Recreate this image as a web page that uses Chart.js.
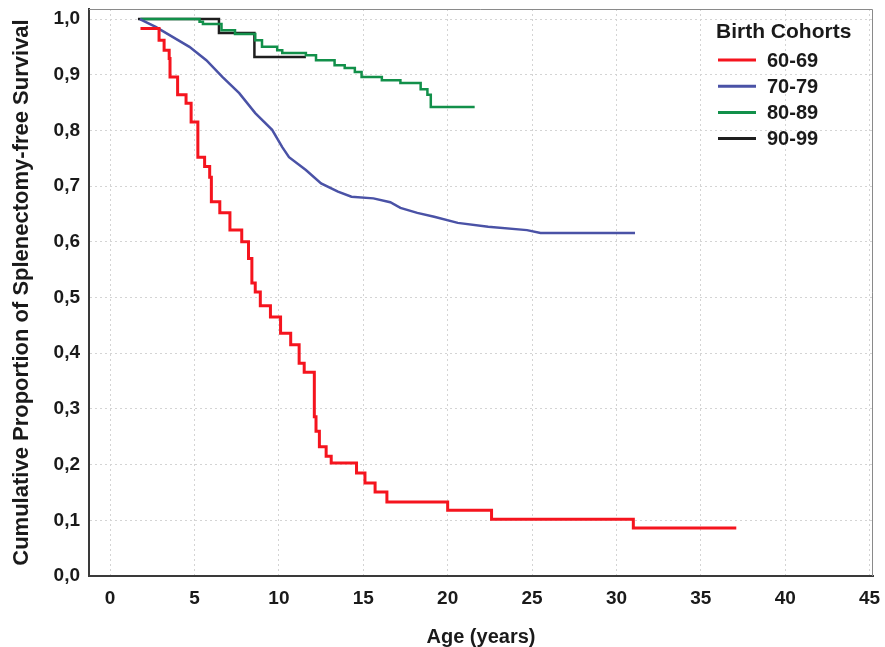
<!DOCTYPE html>
<html><head><meta charset="utf-8">
<script src="https://cdn.jsdelivr.net/npm/chart.js@4/dist/chart.umd.min.js"></script>
<style>html,body{margin:0;padding:0;background:#fff;} #wrap{width:885px;height:647px;}</style>
</head><body><div id="wrap"><canvas id="c" width="885" height="647"></canvas></div>
<script>
const cohortLabels = ['60-69', '70-79', '80-89', '90-99'];

const age6069  = [1.8, 2.9, 3.2, 3.5, 3.55, 4.0, 4.5, 4.8, 5.2, 5.6, 5.9, 6.0, 6.5, 7.1, 7.8, 8.2, 8.4, 8.6, 8.9, 9.5, 10.1, 10.7, 11.2, 11.5, 12.1, 12.2, 12.4, 12.8, 13.1, 14.6, 15.1, 15.7, 16.4, 20.0, 22.6, 31.0, 37.1];
const surv6069 = [0.983, 0.962, 0.944, 0.929, 0.896, 0.864, 0.849, 0.815, 0.752, 0.735, 0.716, 0.672, 0.652, 0.621, 0.600, 0.570, 0.526, 0.510, 0.485, 0.465, 0.436, 0.415, 0.382, 0.366, 0.286, 0.260, 0.232, 0.215, 0.203, 0.185, 0.167, 0.151, 0.133, 0.118, 0.102, 0.086, 0.086];

const age7079  = [1.76, 2.7, 3.7, 4.7, 5.7, 6.65, 7.65, 8.6, 9.6, 10.2, 10.6, 11.6, 12.5, 13.5, 14.3, 15.6, 16.6, 17.2, 18.2, 19.2, 20.6, 22.4, 24.7, 25.5, 31.1];
const surv7079 = [1.0, 0.986, 0.968, 0.950, 0.926, 0.896, 0.867, 0.831, 0.801, 0.770, 0.752, 0.729, 0.705, 0.690, 0.681, 0.678, 0.671, 0.661, 0.652, 0.645, 0.634, 0.627, 0.621, 0.616, 0.616];

const age8089  = [1.8, 5.3, 5.5, 6.6, 7.4, 8.6, 9.0, 9.9, 10.2, 11.6, 12.2, 13.3, 13.9, 14.5, 14.9, 16.1, 17.2, 18.4, 18.8, 19.0, 21.6];
const surv8089 = [1.0, 0.995, 0.991, 0.980, 0.973, 0.962, 0.950, 0.944, 0.939, 0.935, 0.926, 0.917, 0.912, 0.905, 0.896, 0.890, 0.885, 0.874, 0.864, 0.842, 0.842];

const age9099  = [1.65, 6.45, 8.55, 11.6];
const surv9099 = [1.0, 0.975, 0.932, 0.932];

const xTickValues = [0, 5, 10, 15, 20, 25, 30, 35, 40, 45];
const yTickValues = [0, 0.1, 0.2, 0.3, 0.4, 0.5, 0.6, 0.7, 0.8, 0.9, 1.0];

const legendTitle = 'Birth Cohorts';
const xTitle = 'Age (years)';
const yTitle = 'Cumulative Proportion of Splenectomy-free Survival';

const colors = ['#f5141e', '#4a52a6', '#12904a', '#1e1e1e'];
const widths = [3, 2.5, 2.5, 2.5];

function pts(xs, ys) { return xs.map((x, i) => ({x: x, y: ys[i]})); }

const seriesX = [age6069, age7079, age8089, age9099];
const seriesY = [surv6069, surv7079, surv8089, surv9099];
const steppedFlags = [true, false, true, true];

const datasets = cohortLabels.map((lab, i) => ({
  label: lab,
  data: pts(seriesX[i], seriesY[i]),
  borderColor: colors[i],
  backgroundColor: colors[i],
  borderWidth: widths[i],
  pointRadius: 0,
  fill: false,
  stepped: steppedFlags[i],
  tension: 0
}));

const FONT = '"Liberation Sans", Arial, sans-serif';

const framePlugin = {
  id: 'frame',
  afterDraw(chart) {
    const {ctx, chartArea: a} = chart;
    ctx.save();
    ctx.strokeStyle = '#8a8a8a';
    ctx.lineWidth = 1;
    ctx.beginPath();
    ctx.moveTo(a.left, a.top + 0.5);
    ctx.lineTo(a.right - 0.5, a.top + 0.5);
    ctx.lineTo(a.right - 0.5, a.bottom);
    ctx.stroke();
    // legend
    ctx.fillStyle = '#1a1a1a';
    ctx.textBaseline = 'middle';
    ctx.textAlign = 'left';
    ctx.font = 'bold 21px ' + FONT;
    ctx.fillText(legendTitle, 716, 32);
    ctx.font = 'bold 20px ' + FONT;
    chart.data.datasets.forEach((ds, i) => {
      const y = 60 + i * 26.2;
      ctx.strokeStyle = ds.borderColor;
      ctx.lineWidth = 3;
      ctx.beginPath();
      ctx.moveTo(718, y);
      ctx.lineTo(756, y);
      ctx.stroke();
      ctx.fillStyle = '#1a1a1a';
      ctx.fillText(ds.label, 767, y + 1);
    });
    ctx.restore();
  }
};

new Chart(document.getElementById('c'), {
  type: 'line',
  data: { datasets: datasets },
  options: {
    responsive: false,
    animation: false,
    layout: { padding: { top: 9, right: 12, left: 0, bottom: 0 } },
    plugins: { legend: { display: false }, tooltip: { enabled: false } },
    scales: {
      x: {
        type: 'linear',
        min: -1.25,
        max: 45.2,
        afterBuildTicks(s) { s.ticks = xTickValues.map(v => ({value: v})); },
        afterFit(s) { s.height = 71; s.paddingLeft = 0; s.paddingRight = 0; },
        grid: { color: '#d4d4d4', lineWidth: 1, drawTicks: false },
        border: { display: true, color: '#3a3a3a', width: 2, dash: [2, 3] },
        ticks: {
          padding: 11,
          color: '#1a1a1a',
          font: { family: FONT, size: 19, weight: 'bold' },
          callback: v => String(v),
          maxRotation: 0,
          autoSkip: false
        },
        title: {
          display: true, text: xTitle, color: '#1a1a1a',
          font: { family: FONT, size: 20, weight: 'bold', lineHeight: 1 },
          padding: { top: 0, bottom: 0 }
        }
      },
      y: {
        type: 'linear',
        min: 0,
        max: 1.018,
        afterBuildTicks(s) { s.ticks = yTickValues.map(v => ({value: v})); },
        afterFit(s) { s.width = 89; s.paddingTop = 0; s.paddingBottom = 0; },
        grid: { color: '#d4d4d4', lineWidth: 1, drawTicks: false },
        border: { display: true, color: '#3a3a3a', width: 2, dash: [2, 3] },
        ticks: {
          padding: 9,
          color: '#1a1a1a',
          font: { family: FONT, size: 19, weight: 'bold' },
          callback: v => v.toFixed(1).replace('.', ','),
          autoSkip: false
        },
        title: {
          display: true, text: yTitle, color: '#1a1a1a',
          font: { family: FONT, size: 22, weight: 'bold', lineHeight: 1.0 },
          padding: { top: 11, bottom: 0 }
        }
      }
    }
  },
  plugins: [framePlugin]
});
</script></body></html>
